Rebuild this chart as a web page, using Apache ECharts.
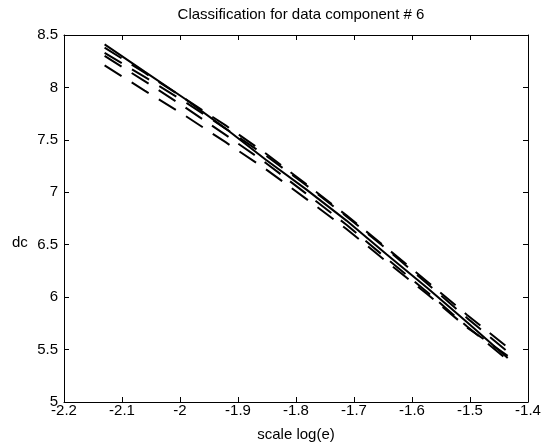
<!DOCTYPE html>
<html>
<head>
<meta charset="utf-8">
<script src="https://cdn.jsdelivr.net/npm/echarts@6/dist/echarts.min.js"></script>
<style>
  html, body { margin: 0; padding: 0; background: #fff; }
  #chart { width: 547px; height: 448px; }
</style>
</head>
<body>
<div id="chart"></div>
<script>
// scale values (x) shared by all curves
const scaleLog = [-2.130, -2.061, -1.991, -1.922, -1.852, -1.783, -1.713, -1.644, -1.574, -1.505, -1.435];

// dc values, one solid curve and four dashed ones
const dcSolid = [8.41, 8.15, 7.89, 7.61, 7.31, 7.03, 6.73, 6.41, 6.09, 5.76, 5.42];
const dcDash1 = [8.38, 8.14, 7.89, 7.64, 7.37, 7.08, 6.78, 6.47, 6.15, 5.83, 5.52];
const dcDash2 = [8.33, 8.10, 7.86, 7.61, 7.35, 7.07, 6.77, 6.46, 6.13, 5.80, 5.48];
const dcDash3 = [8.30, 8.06, 7.81, 7.55, 7.28, 6.99, 6.69, 6.37, 6.05, 5.72, 5.40];
const dcDash4 = [8.21, 7.97, 7.73, 7.48, 7.22, 6.94, 6.65, 6.34, 6.03, 5.71, 5.44];

const font = 'Liberation Sans, Arial, sans-serif';

function pairs(ys) {
  return scaleLog.map(function (x, i) { return [x, ys[i]]; });
}

function curve(ys, dashed) {
  return {
    type: 'line',
    data: pairs(ys),
    showSymbol: false,
    animation: false,
    lineStyle: {
      color: '#000',
      width: 2,
      type: dashed ? [20, 12] : 'solid'
    }
  };
}

function boxAxis(kind, pos, labels) {
  const isX = kind === 'x';
  return {
    type: 'value',
    position: pos,
    min: isX ? -2.2 : 5,
    max: isX ? -1.4 : 8.5,
    interval: isX ? 0.1 : 0.5,
    splitLine: { show: false },
    axisLine: { show: true, onZero: false, lineStyle: { color: '#000', width: 1 } },
    axisTick: { show: true, inside: true, length: 5, lineStyle: { color: '#000' } },
    axisLabel: {
      show: labels,
      color: '#000',
      fontFamily: font,
      fontSize: 15,
      margin: isX ? 1 : 6,
      formatter: function (v) { return String(+v.toFixed(1)); }
    },
    name: labels && isX ? 'scale log(e)' : '',
    nameLocation: 'middle',
    nameGap: 25,
    nameTextStyle: { color: '#000', fontFamily: font, fontSize: 15 }
  };
}

const chart = echarts.init(document.getElementById('chart'), null, { renderer: 'canvas' });
chart.setOption({
  backgroundColor: '#fff',
  animation: false,
  title: {
    text: 'Classification for data component # 6',
    left: 296,
    textAlign: 'center',
    top: 2,
    textStyle: { color: '#000', fontFamily: font, fontSize: 15, fontWeight: 'normal' }
  },
  grid: { left: 64, right: 19, top: 35, bottom: 46 },
  xAxis: [boxAxis('x', 'bottom', true), boxAxis('x', 'top', false)],
  yAxis: [boxAxis('y', 'left', true), boxAxis('y', 'right', false)],
  series: [
    curve(dcSolid, false),
    curve(dcDash1, true),
    curve(dcDash2, true),
    curve(dcDash3, true),
    curve(dcDash4, true)
  ]
});

// y axis name sits on the 6.5 row, as in the original figure
const namePos = chart.convertToPixel({ yAxisIndex: 0 }, 6.5);
chart.setOption({
  graphic: [{
    type: 'text',
    left: 12,
    top: namePos - 9,
    style: { text: 'dc', fill: '#000', font: '15px ' + font }
  }]
});
</script>
</body>
</html>
